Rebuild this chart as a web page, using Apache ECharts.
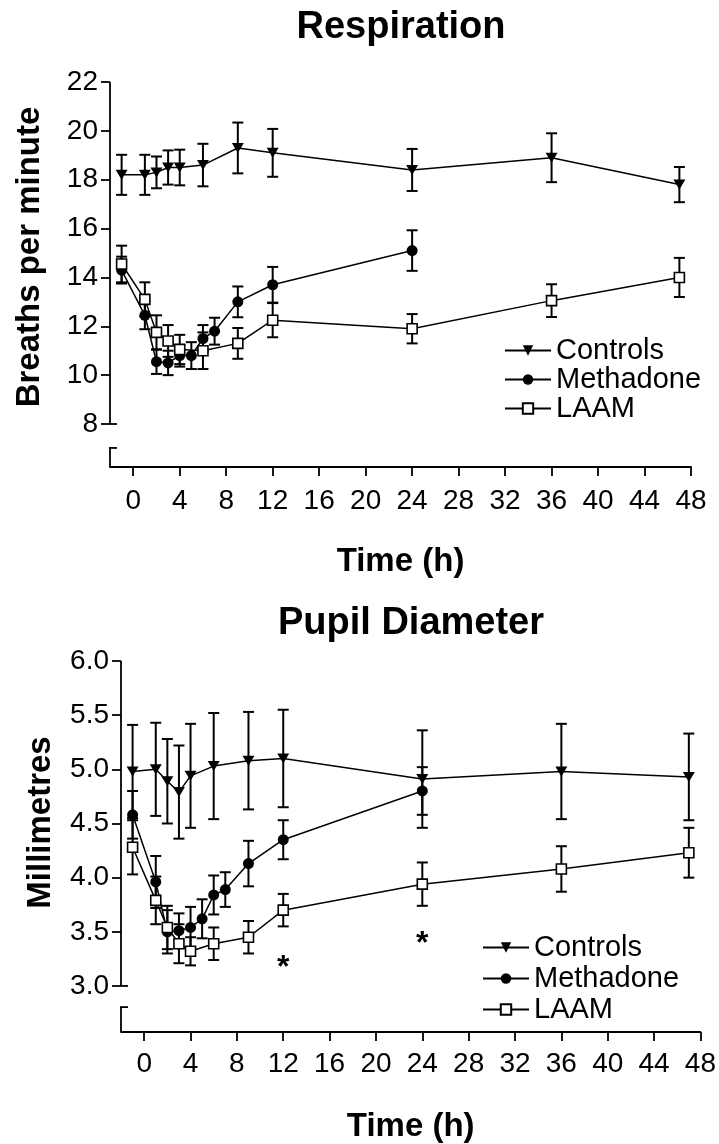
<!DOCTYPE html>
<html>
<head>
<meta charset="utf-8">
<script src="https://cdn.jsdelivr.net/npm/echarts@6/dist/echarts.min.js"></script>
<style>
html,body{margin:0;padding:0;background:#fff;}
#chart{width:719px;height:1144px;}
</style>
</head>
<body>
<div id="chart"></div>
<script>
// ---------------- DATA ----------------
const seriesNames = ['Controls', 'Methadone', 'LAAM'];
const xTickValues = [0, 4, 8, 12, 16, 20, 24, 28, 32, 36, 40, 44, 48];

// Respiration (breaths per minute), mean and SEM
const respYTicks = [8, 10, 12, 14, 16, 18, 20, 22];
const respControlsTime = [-1, 1, 2, 3, 4, 6, 9, 12, 24, 36, 47];
const respControlsMean = [18.2, 18.2, 18.3, 18.5, 18.5, 18.6, 19.3, 19.1, 18.4, 18.9, 17.8];
const respControlsSem  = [0.82, 0.82, 0.65, 0.7, 0.73, 0.87, 1.04, 0.98, 0.86, 1.0, 0.72];
const respMethTime = [-1, 1, 2, 3, 4, 5, 6, 7, 9, 12, 24];
const respMethMean = [14.3, 12.45, 10.55, 10.5, 10.8, 10.8, 11.5, 11.8, 13.0, 13.7, 15.1];
const respMethSem  = [0.55, 0.57, 0.5, 0.5, 0.45, 0.55, 0.55, 0.55, 0.63, 0.73, 0.83];
const respLaamTime = [-1, 1, 2, 3, 4, 6, 9, 12, 24, 36, 47];
const respLaamMean = [14.55, 13.1, 11.75, 11.4, 11.05, 11.0, 11.3, 12.25, 11.9, 13.05, 14.0];
const respLaamSem  = [0.75, 0.7, 0.7, 0.65, 0.6, 0.75, 0.63, 0.7, 0.6, 0.67, 0.8];

// Pupil diameter (mm), mean and SEM
const pupYTicks = [3.0, 3.5, 4.0, 4.5, 5.0, 5.5, 6.0];
const pupControlsTime = [-1, 1, 2, 3, 4, 6, 9, 12, 24, 36, 47];
const pupControlsMean = [4.98, 5.0, 4.89, 4.79, 4.94, 5.03, 5.08, 5.1, 4.91, 4.98, 4.93];
const pupControlsSem  = [0.43, 0.43, 0.39, 0.43, 0.48, 0.49, 0.45, 0.45, 0.45, 0.44, 0.4];
const pupMethTime = [-1, 1, 2, 3, 4, 5, 6, 7, 9, 12, 24];
const pupMethMean = [4.58, 3.96, 3.5, 3.51, 3.54, 3.62, 3.84, 3.89, 4.13, 4.35, 4.8];
const pupMethSem  = [0.22, 0.24, 0.2, 0.16, 0.19, 0.18, 0.18, 0.16, 0.21, 0.18, 0.22];
const pupLaamTime = [-1, 1, 2, 3, 4, 6, 9, 12, 24, 36, 47];
const pupLaamMean = [4.28, 3.79, 3.54, 3.39, 3.32, 3.39, 3.45, 3.7, 3.94, 4.08, 4.23];
const pupLaamSem  = [0.25, 0.22, 0.2, 0.18, 0.13, 0.15, 0.15, 0.15, 0.2, 0.21, 0.23];

// significance markers (pupil)
const pupStarTime  = [12, 24];
const pupStarValue = [3.34, 3.56];

// axis ranges (with broken y axis: main segment + short stub)
const xMin = -2, xMax = 48;
const respYMin = 6.24, respYMax = 22, respStubTop = 7.02;
const pupYMin = 2.575, pupYMax = 6.0, pupStubTop = 2.805;

// ---------------- HELPERS ----------------
const FONT = '"Liberation Sans", Arial, Helvetica, sans-serif';
const BLACK = '#000';

function pairs(t, m) { return t.map((x, i) => [x, m[i]]); }
function bars(t, m, s) { return t.map((x, i) => [x, m[i] - s[i], m[i] + s[i]]); }

function errorBarItem(params, api) {
  const x = api.value(0);
  const top = api.coord([x, api.value(2)]);
  const bot = api.coord([x, api.value(1)]);
  const hw = 5.5;
  const st = { stroke: BLACK, lineWidth: 2 };
  return {
    type: 'group',
    children: [
      { type: 'line', shape: { x1: top[0], y1: top[1], x2: bot[0], y2: bot[1] }, style: st },
      { type: 'line', shape: { x1: top[0] - hw, y1: top[1], x2: top[0] + hw, y2: top[1] }, style: st },
      { type: 'line', shape: { x1: bot[0] - hw, y1: bot[1], x2: bot[0] + hw, y2: bot[1] }, style: st }
    ]
  };
}

// broken y-axis line: data = [low, high] segments
function axisSegItem(params, api) {
  const lo = api.value(0), hi = api.value(1);
  const pTop = api.coord([xMin, hi]);
  const pBot = api.coord([xMin, lo]);
  const st = { stroke: BLACK, lineWidth: 1.8 };
  const children = [
    { type: 'line', shape: { x1: pTop[0], y1: pTop[1], x2: pBot[0], y2: pBot[1] }, style: st }
  ];
  if (params.dataIndex === 0) {
    children.push({ type: 'line', shape: { x1: pBot[0], y1: pBot[1], x2: pBot[0] + 7, y2: pBot[1] }, style: st });
  } else {
    children.push({ type: 'line', shape: { x1: pTop[0] - 1, y1: pTop[1], x2: pTop[0] + 7, y2: pTop[1] }, style: st });
  }
  return { type: 'group', children: children };
}

function starItem(params, api) {
  const p = api.coord([api.value(0), api.value(1)]);
  return {
    type: 'text',
    x: p[0], y: p[1] + 19,
    style: { text: '*', font: 'bold 32px ' + FONT, fill: BLACK, align: 'center', verticalAlign: 'middle' }
  };
}

function xAxisCfg(gridIndex, labelMargin) {
  return {
    type: 'value', gridIndex: gridIndex, min: xMin, max: xMax,
    name: 'Time (h)', nameLocation: 'middle', nameGap: 78,
    nameTextStyle: { fontFamily: FONT, fontWeight: 'bold', fontSize: 33, color: BLACK },
    axisLine: { show: true, onZero: false, lineStyle: { color: BLACK, width: 1.8 } },
    axisTick: { show: true, length: 9, customValues: xTickValues, lineStyle: { color: BLACK, width: 1.8 } },
    axisLabel: { show: true, customValues: xTickValues, margin: labelMargin, fontFamily: FONT, fontSize: 28, color: BLACK },
    splitLine: { show: false }
  };
}

function yAxisCfg(gridIndex, min, max, ticks, name, shiftPad, fmt) {
  return {
    type: 'value', gridIndex: gridIndex, min: min, max: max,
    name: name, nameLocation: 'middle', nameGap: 64,
    nameTextStyle: { fontFamily: FONT, fontWeight: 'bold', fontSize: 33, color: BLACK, padding: [0, 0, 0, shiftPad] },
    axisLine: { show: false, onZero: false },
    axisTick: { show: true, length: 9, customValues: ticks, lineStyle: { color: BLACK, width: 1.8 } },
    axisLabel: { show: true, customValues: ticks, margin: 12, fontFamily: FONT, fontSize: 28, color: BLACK, formatter: fmt },
    splitLine: { show: false }
  };
}

function lineSeries(name, xi, yi, data, kind) {
  const s = {
    name: name, type: 'line', xAxisIndex: xi, yAxisIndex: yi, data: data,
    lineStyle: { color: BLACK, width: 1.5 },
    emphasis: { disabled: true },
    z: 5
  };
  if (kind === 'tri') {
    s.symbol = 'triangle'; s.symbolRotate = 180; s.symbolSize = [12, 10];
    s.itemStyle = { color: BLACK };
  } else if (kind === 'circ') {
    s.symbol = 'circle'; s.symbolSize = 11;
    s.itemStyle = { color: BLACK };
  } else {
    s.symbol = 'rect'; s.symbolSize = 10;
    s.itemStyle = { color: '#fff', borderColor: BLACK, borderWidth: 1.6 };
    s.z = 6;
  }
  return s;
}

function errSeries(xi, yi, data) {
  return {
    type: 'custom', xAxisIndex: xi, yAxisIndex: yi, data: data,
    renderItem: errorBarItem, encode: { x: 0, y: [1, 2] }, z: 3, silent: true
  };
}

const option = {
  backgroundColor: '#fff',
  animation: false,
  textStyle: { fontFamily: FONT },
  title: [
    { text: 'Respiration', left: 401, top: 9, textAlign: 'center', padding: 0,
      textStyle: { fontFamily: FONT, fontWeight: 'bold', fontSize: 38, color: BLACK } },
    { text: 'Pupil Diameter', left: 411, top: 605, textAlign: 'center', padding: 0,
      textStyle: { fontFamily: FONT, fontWeight: 'bold', fontSize: 38, color: BLACK } }
  ],
  legend: [
    { data: seriesNames, orient: 'vertical', left: 504, top: 336, padding: 0,
      itemWidth: 46, itemHeight: 13, itemGap: 0, selectedMode: false,
      textStyle: { fontFamily: FONT, fontSize: 29, lineHeight: 28, color: BLACK } },
    { data: seriesNames, orient: 'vertical', left: 482, top: 932, padding: 0,
      itemWidth: 46, itemHeight: 13, itemGap: 0, selectedMode: false,
      textStyle: { fontFamily: FONT, fontSize: 29, lineHeight: 31, color: BLACK } }
  ],
  grid: [
    { left: 110, top: 82, width: 581, height: 385, containLabel: false },
    { left: 121, top: 661, width: 580, height: 387, containLabel: false }
  ],
  xAxis: [xAxisCfg(0, 20), xAxisCfg(1, 18)],
  yAxis: [
    yAxisCfg(0, respYMin, respYMax, respYTicks, 'Breaths per minute', 35, v => String(v)),
    yAxisCfg(1, pupYMin, pupYMax, pupYTicks, 'Millimetres', 48, v => v.toFixed(1))
  ],
  series: [
    { type: 'custom', xAxisIndex: 0, yAxisIndex: 0, data: [[8, respYMax], [respYMin, respStubTop]],
      renderItem: axisSegItem, encode: { y: [0, 1] }, clip: false, silent: true, z: 2 },
    { type: 'custom', xAxisIndex: 1, yAxisIndex: 1, data: [[3.0, pupYMax], [pupYMin, pupStubTop]],
      renderItem: axisSegItem, encode: { y: [0, 1] }, clip: false, silent: true, z: 2 },

    errSeries(0, 0, bars(respControlsTime, respControlsMean, respControlsSem)),
    errSeries(0, 0, bars(respMethTime, respMethMean, respMethSem)),
    errSeries(0, 0, bars(respLaamTime, respLaamMean, respLaamSem)),
    lineSeries('Controls', 0, 0, pairs(respControlsTime, respControlsMean), 'tri'),
    lineSeries('Methadone', 0, 0, pairs(respMethTime, respMethMean), 'circ'),
    lineSeries('LAAM', 0, 0, pairs(respLaamTime, respLaamMean), 'sq'),

    errSeries(1, 1, bars(pupControlsTime, pupControlsMean, pupControlsSem)),
    errSeries(1, 1, bars(pupMethTime, pupMethMean, pupMethSem)),
    errSeries(1, 1, bars(pupLaamTime, pupLaamMean, pupLaamSem)),
    lineSeries('Controls', 1, 1, pairs(pupControlsTime, pupControlsMean), 'tri'),
    lineSeries('Methadone', 1, 1, pairs(pupMethTime, pupMethMean), 'circ'),
    lineSeries('LAAM', 1, 1, pairs(pupLaamTime, pupLaamMean), 'sq'),

    { type: 'custom', xAxisIndex: 1, yAxisIndex: 1, data: pairs(pupStarTime, pupStarValue),
      renderItem: starItem, encode: { x: 0, y: 1 }, silent: true, z: 7 }
  ]
};

const chart = echarts.init(document.getElementById('chart'), null, { renderer: 'canvas' });
chart.setOption(option);
</script>
</body>
</html>
